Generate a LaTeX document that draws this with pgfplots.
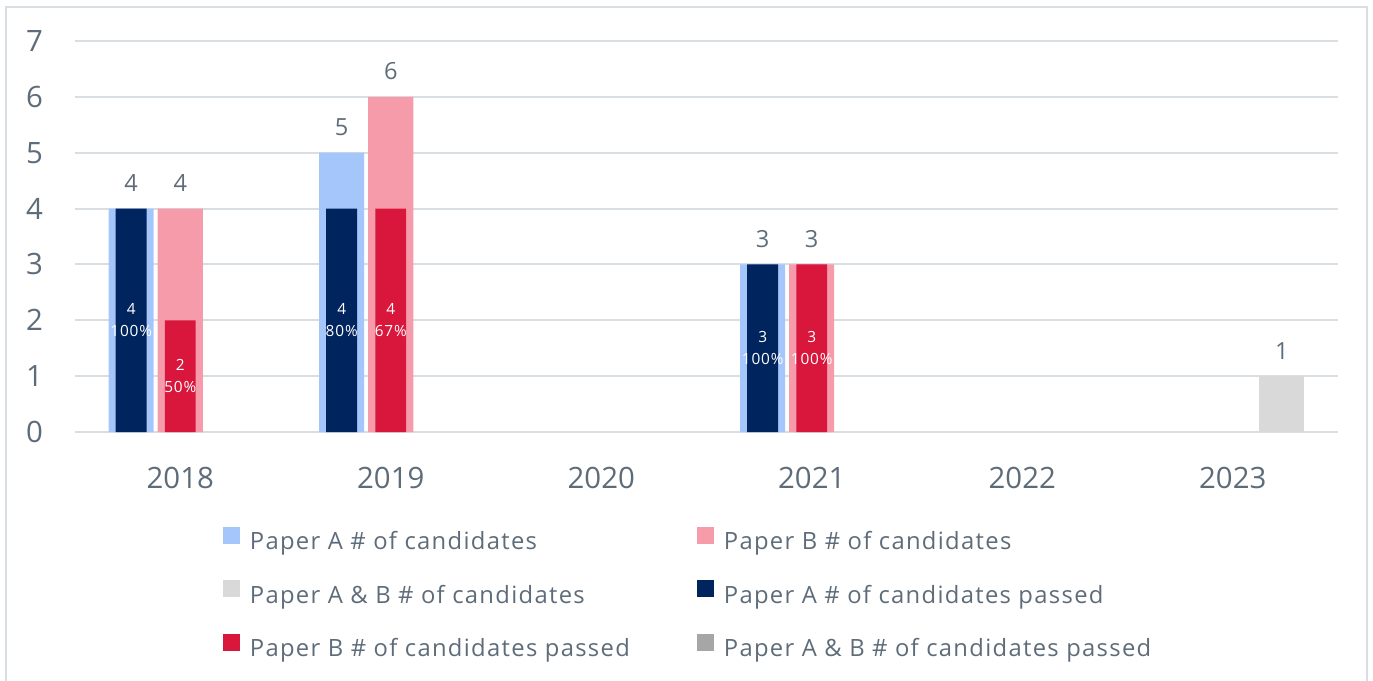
\documentclass[border=0pt]{standalone}
\usepackage{pgfplots}
\pgfplotsset{compat=1.18}
\usepackage{fontspec}
\setmainfont{Open Sans}
\newfontfamily\legfont[LetterSpace=5.5]{Open Sans}
\definecolor{txt}{HTML}{5E6C7A}
\definecolor{gridc}{HTML}{D9DEE3}
\definecolor{acand}{HTML}{A4C6FA}
\definecolor{bcand}{HTML}{F59BAA}
\definecolor{abcand}{HTML}{D9D9D9}
\definecolor{apass}{HTML}{00245E}
\definecolor{bpass}{HTML}{D9163C}
\definecolor{abpass}{HTML}{A6A6A6}
\pgfplotsset{sqlegend/.style={legend image code/.code={\fill[##1] (0pt,0pt) rectangle (8.5pt,8.5pt); \path (13.25pt,0pt);}}}
\pgfplotsset{
  candbar/.style={ybar, bar width=0.2138, bar shift=#1, draw=none, sqlegend,
    nodes near coords, nodes near coords align={vertical},
    every node near coord/.append style={font=\fontsize{11.8}{14}\selectfont, text=txt, yshift=5pt, xshift=#1*105.25pt}},
  passbar/.style={ybar, bar width=0.147, bar shift=#1, draw=none, sqlegend,
    point meta=explicit symbolic,
    visualization depends on={rawy \as \rawy},
    nodes near coords, nodes near coords align={center},
    every node near coord/.append style={anchor=center, align=center, text=white,
      font=\legfont\fontsize{7.7}{11}\selectfont, yshift=-\rawy*13.964pt, xshift=#1*105.25pt}},
}
\begin{document}
\begin{tikzpicture}
\useasboundingbox (0,0) rectangle (686.5pt,340.5pt);
\draw[color=gridc, line width=1pt] (3pt,-5pt) rectangle (683.5pt,337pt);
\begin{axis}[
  at={(37.5pt,124.5pt)}, anchor=south west,
  scale only axis, width=631.5pt, height=195.5pt,
  xmin=-0.5, xmax=5.5, ymin=0, ymax=7,
  xtick={0,1,2,3,4,5}, xticklabels={2018,2019,2020,2021,2022,2023},
  ytick={0,1,...,7},
  axis line style={draw=none},
  major tick length=0pt,
  ymajorgrids, grid style={gridc, line width=1pt},
  tick label style={font=\fontsize{14.7}{17}\selectfont, text=txt},
  /pgf/number format/assume math mode=true,
  xticklabel style={yshift=-14pt},
  yticklabel style={xshift=-12.5pt},
  clip=false,
  legend columns=2,
  legend cell align=left,
  legend style={at={(0.1172,-0.2417)}, anchor=north west, draw=none, fill=none,
    inner sep=0pt, column sep=0pt, row sep=12.25pt,
    font=\legfont\fontsize{11.9}{14}\selectfont, text=txt,
    nodes={inner sep=0pt, text height=9pt, text depth=3pt}},
]
\addplot[candbar=-0.233, fill=acand] coordinates {(0,4) (1,5) (3,3)};
\addlegendentry{\makebox[223.75pt][l]{Paper A \# of candidates}}
\addplot[candbar=0, fill=bcand] coordinates {(0,4) (1,6) (3,3)};
\addlegendentry{Paper B \# of candidates}
\addplot[candbar=0.233, fill=abcand] coordinates {(5,1)};
\addlegendentry{\makebox[223.75pt][l]{Paper A \& B \# of candidates}}
\addplot[passbar=-0.233, fill=apass] coordinates {(0,4) [{4\\100\%}] (1,4) [{4\\80\%}] (3,3) [{3\\100\%}]};
\addlegendentry{Paper A \# of candidates passed}
\addplot[passbar=0, fill=bpass] coordinates {(0,2) [{2\\50\%}] (1,4) [{4\\67\%}] (3,3) [{3\\100\%}]};
\addlegendentry{\makebox[223.75pt][l]{Paper B \# of candidates passed}}
\addlegendimage{sqlegend, fill=abpass, draw=none}
\addlegendentry{Paper A \& B \# of candidates passed}
\end{axis}
\end{tikzpicture}
\end{document}
